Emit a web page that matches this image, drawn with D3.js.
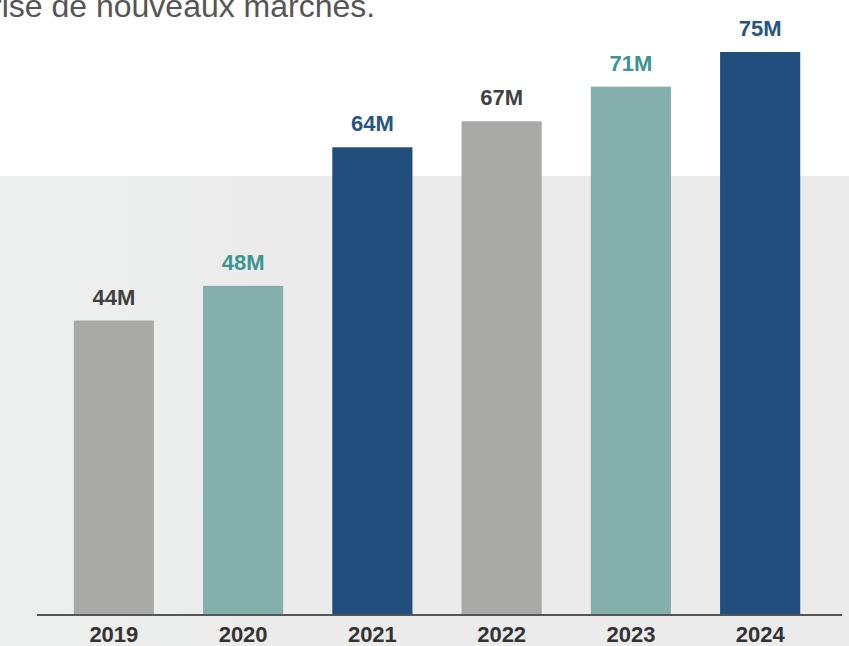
<!DOCTYPE html>
<html>
<head>
<meta charset="utf-8">
<title>Chiffre d'affaires 2019-2024</title>
<script src="https://cdn.jsdelivr.net/npm/d3@7"></script>
<style>
  body { margin: 0; background: #fff; }
  svg { display: block; }
</style>
</head>
<body>
<script>
// values (millions)
var years = ["2019", "2020", "2021", "2022", "2023", "2024"];
var revenue = [44, 48, 64, 67, 71, 75];
var labels = ["44M", "48M", "64M", "67M", "71M", "75M"];
var barColors = ["#a9a9a7", "#84afad", "#224e7d", "#a9a9a7", "#84afad", "#224e7d"];
var labelColors = ["#404040", "#3b9590", "#275583", "#404040", "#3b9590", "#275583"];

var width = 849, height = 646;
var baseline = 615;

var svg = d3.select("body").append("svg")
    .attr("width", width)
    .attr("height", height);

var defs = svg.append("defs");
var grad = defs.append("linearGradient")
    .attr("id", "band")
    .attr("x1", "0").attr("x2", "1").attr("y1", "0").attr("y2", "0");
grad.append("stop").attr("offset", "0").attr("stop-color", "#eef0f0");
grad.append("stop").attr("offset", "0.3").attr("stop-color", "#ebebeb");
grad.append("stop").attr("offset", "1").attr("stop-color", "#ebebeb");

// grey background band
svg.append("rect")
    .attr("x", 0).attr("y", 176)
    .attr("width", width).attr("height", height - 176)
    .attr("fill", "url(#band)");

// heading line, cut off at the top like in the picture
svg.append("text")
    .attr("x", -9).attr("y", 17)
    .attr("font-family", "Liberation Sans, Arial, sans-serif")
    .attr("font-size", 32)
    .attr("fill", "#555")
    .text("rise de nouveaux marchés.");

var x = d3.scaleBand()
    .domain(years)
    .range([35, 839])
    .paddingInner(0.38)
    .paddingOuter(0.3);

// domain floor chosen so the bars sit as in the picture
var y = d3.scaleLinear()
    .domain([10, 75])
    .range([baseline, 52]);

var data = years.map(function(d, i) {
    return { year: d, value: revenue[i], label: labels[i], color: barColors[i], lc: labelColors[i] };
});

svg.selectAll("rect.bar")
    .data(data)
    .enter()
    .append("rect")
    .attr("class", "bar")
    .attr("x", function(d) { return x(d.year); })
    .attr("y", function(d) { return y(d.value); })
    .attr("width", x.bandwidth())
    .attr("height", function(d) { return baseline - y(d.value); })
    .attr("fill", function(d) { return d.color; });

svg.selectAll("text.val")
    .data(data)
    .enter()
    .append("text")
    .attr("class", "val")
    .attr("x", function(d) { return x(d.year) + x.bandwidth() / 2; })
    .attr("y", function(d) { return y(d.value) - 16; })
    .attr("text-anchor", "middle")
    .attr("font-family", "Liberation Sans, Arial, sans-serif")
    .attr("font-weight", "bold")
    .attr("font-size", 22)
    .attr("fill", function(d) { return d.lc; })
    .text(function(d) { return d.label; });

// x axis
var axis = svg.append("g")
    .attr("transform", "translate(0," + baseline + ")")
    .call(d3.axisBottom(x).tickSize(0).tickPadding(11));
axis.select(".domain")
    .attr("d", "M37,0H842")
    .attr("stroke", "#555")
    .attr("stroke-width", 2);
axis.selectAll("text")
    .attr("font-family", "Liberation Sans, Arial, sans-serif")
    .attr("font-weight", "bold")
    .attr("font-size", 22)
    .attr("fill", "#333");
</script>
</body>
</html>
